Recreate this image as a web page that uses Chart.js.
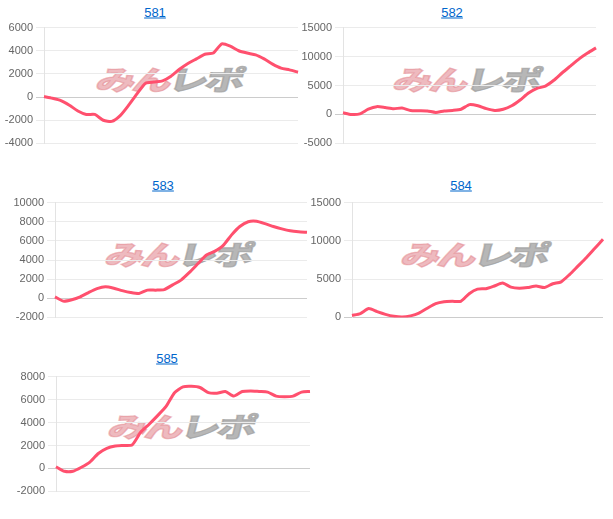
<!DOCTYPE html>
<html>
<head>
<meta charset="utf-8">
<script src="https://cdn.jsdelivr.net/npm/chart.js@4.4.0/dist/chart.umd.min.js"></script>
<style>
  body { margin: 0; background: #fff; width: 613px; height: 519px; overflow: hidden; }
  .title {
    position: absolute; transform: translate(-50%, -50%);
    font: 13px "Liberation Sans", Arial, sans-serif; color: #0066cc; text-decoration: underline;
  }
  .mark {
    position: absolute; transform: translate(-50%, -50%) skewX(-14deg) scaleX(1.45);
    font: 900 27px "Noto Sans CJK JP", sans-serif; white-space: nowrap; letter-spacing: -2px;
    -webkit-text-stroke: 1.2px currentColor;
  }
  .mark .a { color: rgba(228, 140, 148, 0.6); -webkit-text-stroke: 1.2px rgba(228, 140, 148, 0.6); }
  .mark .b { color: rgba(160, 160, 160, 0.75); -webkit-text-stroke: 1.2px rgba(160, 160, 160, 0.75); }
  canvas { position: absolute; }
</style>
</head>
<body>
<div id="wrap"></div>
<script>
// ======================================================================
// Daten der fünf Grafiken (gleichmäßig verteilte Messpunkte)
// ======================================================================
const titles = ["581", "582", "583", "584", "585"];

const data581 = [50, -100, -300, -700, -1200, -1500, -1500, -2000, -2100, -1600, -700,
  300, 1200, 1300, 1400, 1800, 2400, 2900, 3300, 3700, 3800, 4600, 4400, 4000, 3800,
  3650, 3300, 2850, 2500, 2350, 2150];
const data582 = [300, 0, 100, 900, 1350, 1200, 1000, 1100, 700, 650, 600,
  350, 600, 700, 900, 1700, 1500, 1000, 700, 900, 1500, 2500, 3700, 4500, 4900,
  5900, 7200, 8400, 9600, 10600, 11500];
const data583 = [150, -300, -150, 150, 600, 1000, 1200, 1050, 800, 600, 500,
  850, 850, 900, 1400, 1900, 2700, 3600, 4500, 4900, 5500, 6600, 7500, 8000, 8050,
  7800, 7500, 7250, 7050, 6950, 6900];
const data584 = [250, 500, 1150, 750, 400, 150, 50, 200, 550, 1200, 1800,
  2050, 2100, 2100, 3100, 3700, 3750, 4100, 4500, 3950, 3800, 3900, 4100, 3900, 4400,
  4650, 5600, 6700, 7800, 9000, 10200];
const data585 = [150, -250, -250, 100, 550, 1300, 1750, 1950, 2000, 2050, 3150,
  3850, 4600, 5400, 6600, 7100, 7150, 7050, 6600, 6550, 6700, 6300, 6700, 6750, 6700,
  6650, 6300, 6250, 6300, 6650, 6700];

const seriesList = [data581, data582, data583, data584, data585];

// Achsenbereiche je Grafik
const yMins = [-4000, -5000, -2000, 0, -2000];
const yMaxs = [6000, 15000, 10000, 15000, 8000];
const ySteps = [2000, 5000, 2000, 5000, 2000];

// ======================================================================
// Layout: Zeichenfläche je Grafik (Seitenkoordinaten)
// ======================================================================
const layouts = [
  { left: 0,   top: 18,  axisW: 44, plotR: 298, plotH: 119, titleX: 155, titleY: 12,  markX: 170, markY: 78 },
  { left: 300, top: 18,  axisW: 43, plotR: 596, plotH: 119, titleX: 452, titleY: 12,  markX: 467, markY: 78 },
  { left: 0,   top: 193, axisW: 55, plotR: 307, plotH: 118, titleX: 163, titleY: 185, markX: 179, markY: 253 },
  { left: 300, top: 193, axisW: 52, plotR: 603, plotH: 118, titleX: 461, titleY: 185, markX: 475, markY: 253 },
  { left: 0,   top: 367, axisW: 56, plotR: 310, plotH: 118, titleX: 167, titleY: 358, markX: 182, markY: 425 }
];

const lineColor = "rgb(255, 80, 110)";
const wrap = document.getElementById("wrap");

function createChart(i) {
  const lay = layouts[i];
  const values = seriesList[i];
  const labels = values.map((v, k) => k);

  // Titel als Link
  const a = document.createElement("a");
  a.className = "title";
  a.href = "#";
  a.textContent = titles[i];
  a.style.left = lay.titleX + "px";
  a.style.top = lay.titleY + "px";
  wrap.appendChild(a);

  // Wasserzeichen hinter der Linie
  const m = document.createElement("div");
  m.className = "mark";
  m.innerHTML = '<span class="a">みん</span><span class="b">レポ</span>';
  m.style.left = lay.markX + "px";
  m.style.top = lay.markY + "px";
  wrap.appendChild(m);

  const pad = 8;
  const canvas = document.createElement("canvas");
  const w = lay.plotR - lay.left + 4;
  const h = lay.plotH + pad * 2;
  canvas.width = w;
  canvas.height = h;
  canvas.style.left = lay.left + "px";
  canvas.style.top = lay.top + "px";
  canvas.style.width = w + "px";
  canvas.style.height = h + "px";
  wrap.appendChild(canvas);

  new Chart(canvas.getContext("2d"), {
    type: "line",
    data: {
      labels: labels,
      datasets: [{
        data: values,
        borderColor: lineColor,
        backgroundColor: lineColor,
        borderWidth: 3,
        pointRadius: 0,
        tension: 0.2,
        fill: false
      }]
    },
    options: {
      responsive: false,
      animation: false,
      layout: { padding: { top: pad, bottom: pad, right: 4, left: 0 } },
      plugins: { legend: { display: false }, tooltip: { enabled: false } },
      scales: {
        x: { display: false },
        y: {
          min: yMins[i],
          max: yMaxs[i],
          afterFit: (scale) => { scale.width = lay.axisW; },
          ticks: {
            stepSize: ySteps[i],
            padding: 3,
            color: "#666",
            font: { size: 11, family: "'Liberation Sans', Arial, sans-serif" },
            callback: (v) => String(v)
          },
          grid: {
            tickLength: 8,
            color: (ctx) => (ctx.tick && ctx.tick.value === 0) ? "#cccccc" : "#ebebeb"
          },
          border: { color: "#e3e3e3" }
        }
      }
    }
  });
}

for (let i = 0; i < 5; i++) createChart(i);
</script>
</body>
</html>
